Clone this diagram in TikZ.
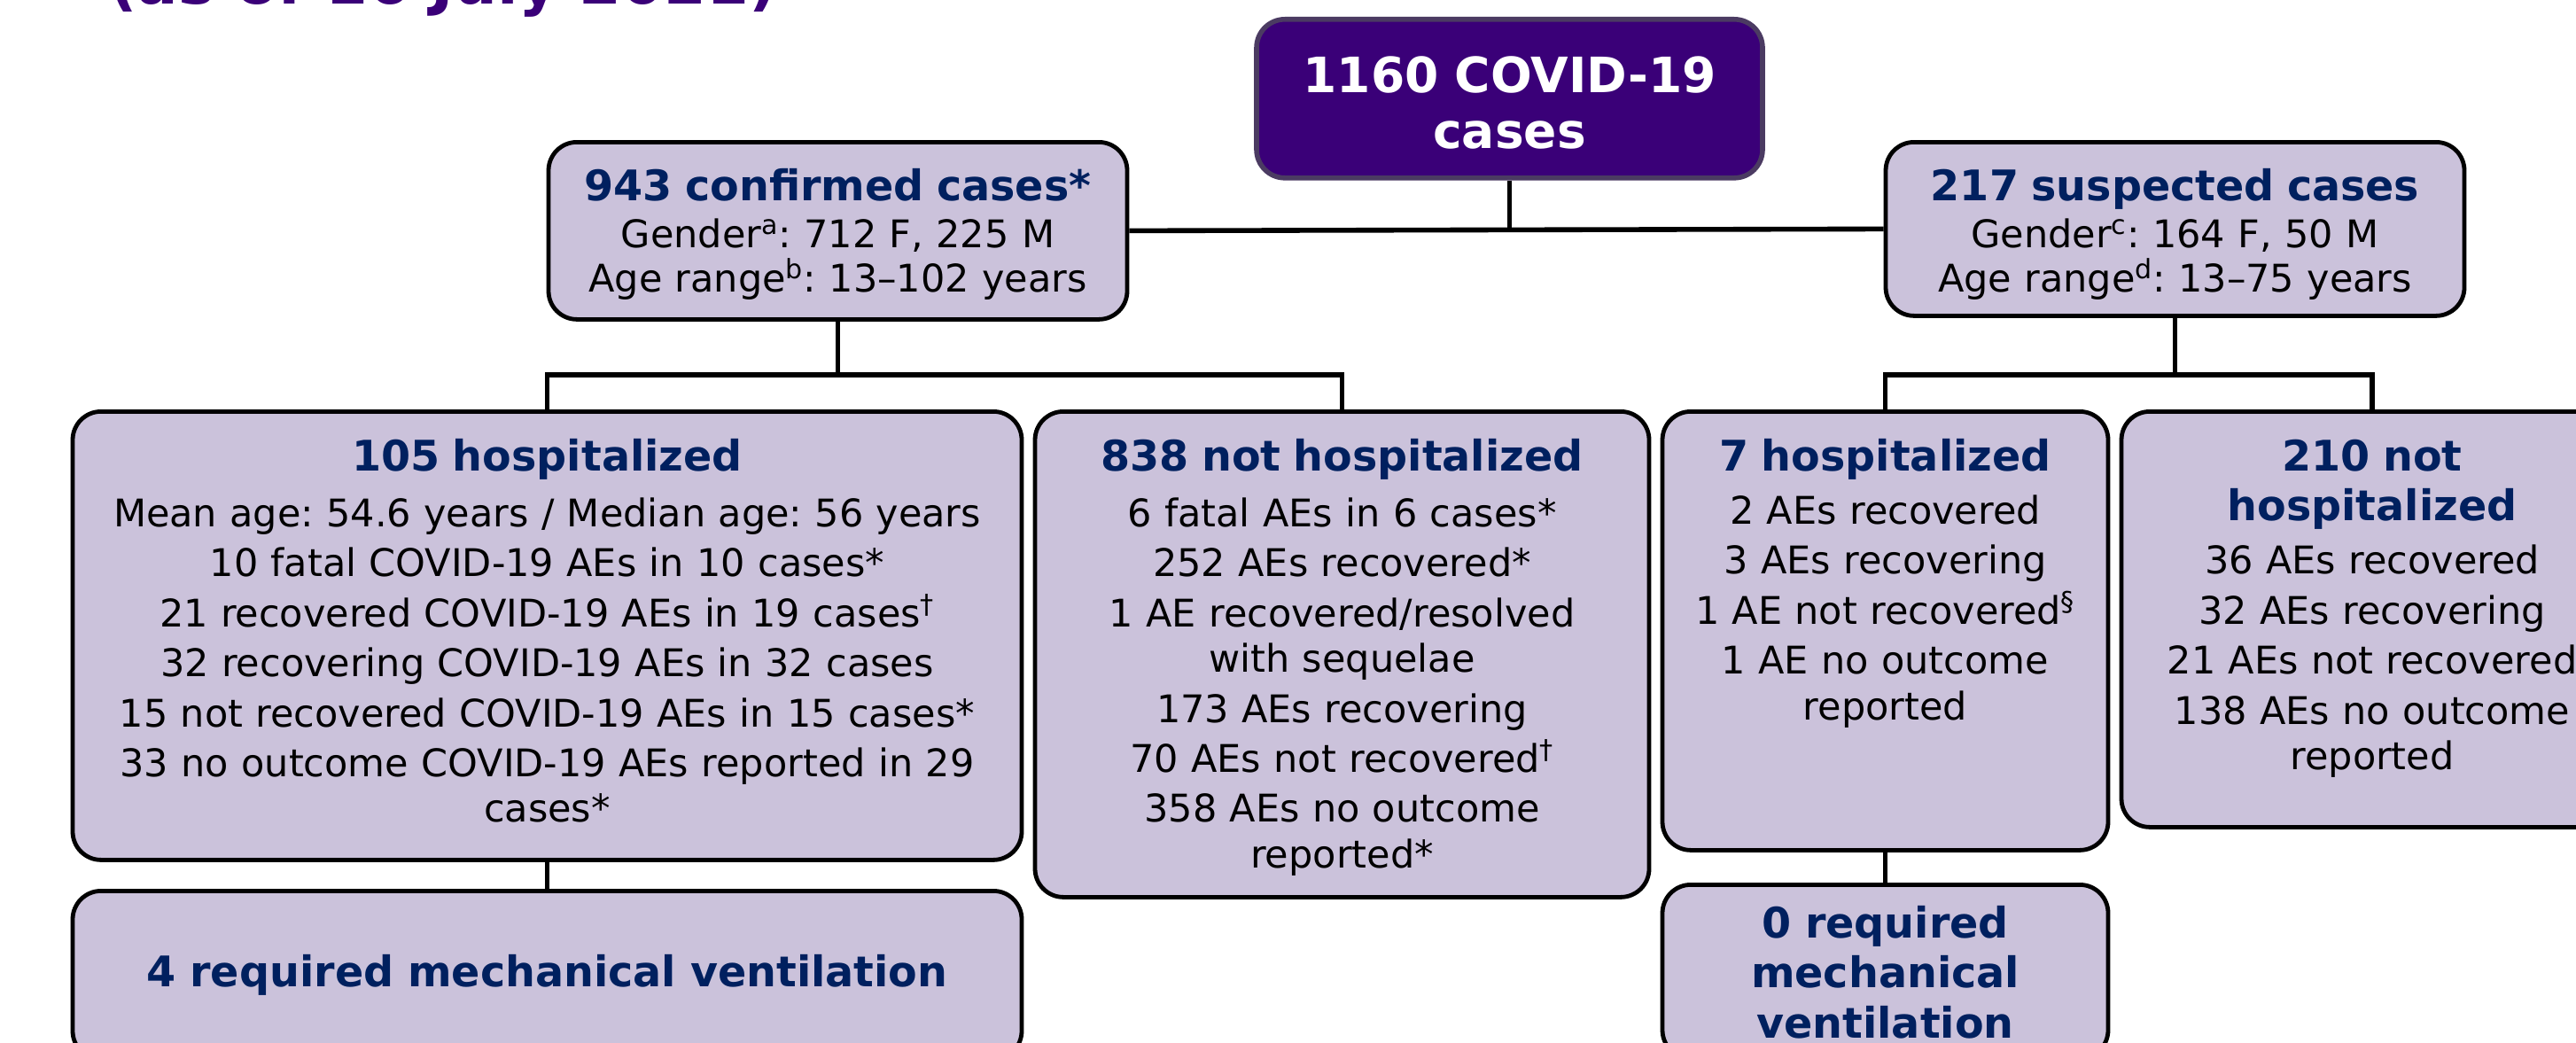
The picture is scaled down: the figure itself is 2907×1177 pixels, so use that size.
\documentclass[tikz,border=0pt]{standalone}
\usepackage{fontspec}
\setmainfont{DejaVu Sans}
\usepackage{xcolor}
\definecolor{slidepurple}{HTML}{3A0078}
\definecolor{topedge}{HTML}{4B3B62}
\definecolor{lavender}{HTML}{CBC2DB}
\definecolor{navyhead}{HTML}{00205F}
\frenchspacing

\newcommand{\bodysize}{\fontsize{21.5}{28.2}\selectfont}
\newcommand{\headsize}{\fontsize{23.8}{28.2}\selectfont\bfseries}
\newcommand{\boxtitle}[1]{{\headsize\color{navyhead}#1}}

\tikzset{
  casebox/.style={draw=black, fill=lavender, line width=2.4pt, rounded corners=16pt,
    anchor=north, inner xsep=0pt, inner ysep=0pt, align=center, font=\bodysize},
  ventbox/.style={casebox, font=\headsize, text=navyhead},
  link/.style={line width=2.8pt, black}
}

\begin{document}
\begin{tikzpicture}[x=0.5pt,y=-0.5pt]
\useasboundingbox (0,0) rectangle (2907,1177);

  \node[anchor=base, font=\fontsize{34.4}{40}\selectfont\bfseries, text=slidepurple] (title) at (500,5) {(as of 16 July 2021)};

  \node[casebox, fill=slidepurple, draw=topedge, line width=2.8pt, text=white,
        text width=285.5pt, text height=41.5pt, text depth=48pt,
        font=\fontsize{27.5}{31.5}\selectfont\bfseries] (total) at (1703.5,19) {1160 COVID-19\\cases};

  \node[casebox, font=\fontsize{21.5}{25}\selectfont, text width=326.5pt, text height=33pt, text depth=67pt] (conf) at (945.5,158)
      {\boxtitle{943 confirmed cases*}\\[1.5pt]
       Gender\textsuperscript{a}: 712 F, 225 M\\
       Age range\textsuperscript{b}: 13--102 years};
  \node[casebox, font=\fontsize{21.5}{25}\selectfont, text width=326.5pt, text height=33pt, text depth=65pt] (susp) at (2454.5,158)
      {\boxtitle{217 suspected cases}\\[1.5pt]
       Gender\textsuperscript{c}: 164 F, 50 M\\
       Age range\textsuperscript{d}: 13--75 years};

  \node[casebox, text width=535.5pt, text height=33.5pt, text depth=219.5pt] (hosp) at (617.5,462)
      {\boxtitle{105 hospitalized}\\[3.3pt]
       Mean age: 54.6 years / Median age: 56 years\\
       10 fatal COVID-19 AEs in 10 cases*\\
       21 recovered COVID-19 AEs in 19 cases\textsuperscript{\dag}\\
       32 recovering COVID-19 AEs in 32 cases\\
       15 not recovered COVID-19 AEs in 15 cases*\\
       33 no outcome COVID-19 AEs reported in 29\\[-2.5pt]
       cases*};
  \node[casebox, text width=346.5pt, text height=33.5pt, text depth=240.5pt] (nothosp) at (1514.5,462)
      {\boxtitle{838 not hospitalized}\\[3.3pt]
       6 fatal AEs in 6 cases*\\
       252 AEs recovered*\\
       1 AE recovered/resolved\\[-2.5pt]
       with sequelae\\
       173 AEs recovering\\
       70 AEs not recovered\textsuperscript{\dag}\\
       358 AEs no outcome\\[-2.5pt]
       reported*};
  \node[casebox, text width=251.5pt, text height=33.5pt, text depth=214pt] (shosp) at (2127.5,462)
      {\boxtitle{7 hospitalized}\\[1.8pt]
       2 AEs recovered\\
       3 AEs recovering\\
       1 AE not recovered\textsuperscript{\S}\\
       1 AE no outcome\\[-2.5pt]
       reported};
  \node[casebox, text width=283pt, text height=33.5pt, text depth=201pt] (snothosp) at (2677,462)
      {\boxtitle{210 not\\hospitalized}\\[1.8pt]
       36 AEs recovered\\
       32 AEs recovering\\
       21 AEs not recovered\\
       138 AEs no outcome\\[-2.5pt]
       reported};

  \node[ventbox, text width=535.5pt, text height=54pt, text depth=41pt] (vent) at (617.5,1003)
      {4 required mechanical ventilation};
  \node[ventbox, text width=251.5pt, text height=30pt, text depth=68pt] (svent) at (2127.5,996)
      {0 required\\mechanical\\ventilation};

  \coordinate (lbar) at (945.5,423);
  \coordinate (rbar) at (2454.5,423);

  \draw[link] (total.south) -- (total.south |- conf.east);
  \draw[link] (conf.east) -- (susp.west);
  \draw[link] (conf.south) -- (lbar);
  \draw[link] (hosp.north) |- (lbar) -| (nothosp.north);
  \draw[link] (susp.south) -- (rbar);
  \draw[link] (shosp.north) |- (rbar) -| (snothosp.north);
  \draw[link] (hosp.south) -- (vent.north);
  \draw[link] (shosp.south) -- (svent.north);
\end{tikzpicture}
\end{document}
